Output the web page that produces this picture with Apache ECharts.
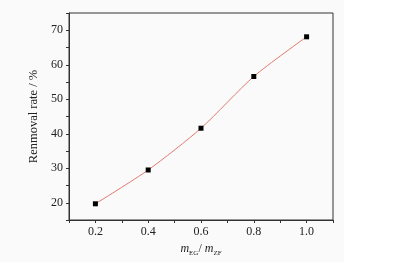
<!DOCTYPE html>
<html><head><meta charset="utf-8">
<script src="https://cdn.jsdelivr.net/npm/echarts@6/dist/echarts.min.js"></script>
<style>html,body{margin:0;padding:0;background:#fff}#c{width:393px;height:268px}</style>
</head><body><div id="c"></div>
<script>
const xValues = [0.2, 0.4, 0.6, 0.8, 1.0];
const removalRate = [19.7, 29.5, 41.6, 56.6, 68.1];
const xTickLabels = ['0.2', '0.4', '0.6', '0.8', '1.0'];
const yTickLabels = ['20', '30', '40', '50', '60', '70'];

const chart = echarts.init(document.getElementById('c'), null, {renderer: 'canvas'});
const font = '"Liberation Serif", "Times New Roman", serif';
const data = xValues.map((x, i) => [x, removalRate[i]]);
chart.setOption({
  animation: false,
  backgroundColor: '#fff',
  graphic: [{
    type: 'rect', z: -10, silent: true,
    shape: {x: 0, y: 0, width: 344, height: 262},
    style: {fill: '#fafafa'}
  }],
  grid: {left: 69, top: 13, right: 60, bottom: 48, show: true, borderColor: '#333', borderWidth: 1, backgroundColor: 'transparent'},
  xAxis: {
    type: 'value', min: 0.1, max: 1.1, interval: 0.1,
    axisLine: {show: true, onZero: false, lineStyle: {color: '#333', width: 1}},
    axisTick: {show: true, length: 3, lineStyle: {color: '#333'}},
    splitLine: {show: false},
    axisLabel: {
      color: '#222', fontFamily: font, fontSize: 12, margin: 6,
      formatter: v => { const s = v.toFixed(1); return xTickLabels.indexOf(s) >= 0 ? s : ''; }
    },
    name: '{i|m}{s|EG}{n|/ }{i|m}{s|ZF}',
    nameLocation: 'middle', nameGap: 19,
    nameTextStyle: {
      fontFamily: font, color: '#222',
      rich: {
        i: {fontStyle: 'italic', fontSize: 12, fontFamily: font, color: '#222', verticalAlign: 'bottom'},
        n: {fontSize: 12, fontFamily: font, color: '#222', verticalAlign: 'bottom'},
        s: {fontSize: 7, fontFamily: font, color: '#222', verticalAlign: 'bottom', padding: [0, 0, -2, 0]}
      }
    }
  },
  yAxis: {
    type: 'value', min: 15, max: 75, interval: 5,
    axisLine: {show: true, onZero: false, lineStyle: {color: '#333', width: 1}},
    axisTick: {show: true, length: 3, lineStyle: {color: '#333'}},
    splitLine: {show: false},
    axisLabel: {
      color: '#222', fontFamily: font, fontSize: 12, margin: 6,
      formatter: v => { const s = String(Math.round(v)); return yTickLabels.indexOf(s) >= 0 ? s : ''; }
    },
    name: 'Renmoval rate / %',
    nameLocation: 'middle', nameGap: 26, nameRotate: 90,
    nameTextStyle: {fontFamily: font, fontSize: 12.5, color: '#222'}
  },
  series: [{
    type: 'line', data: data, smooth: 0.25,
    symbol: 'rect', symbolSize: 5,
    itemStyle: {color: '#000'},
    lineStyle: {color: '#e07a70', width: 1}
  }]
});
</script></body></html>
